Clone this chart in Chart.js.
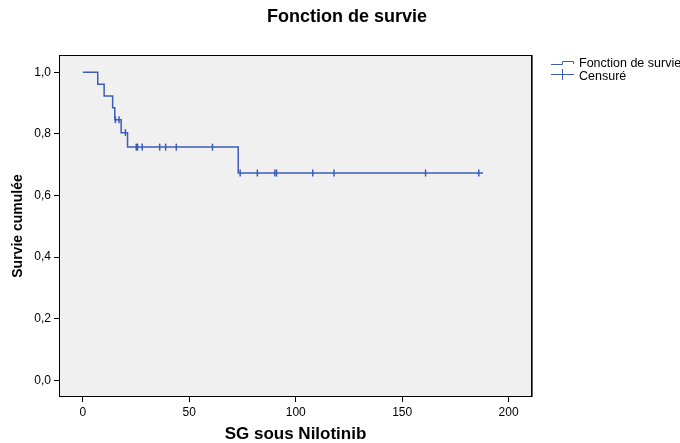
<!DOCTYPE html>
<html lang="fr">
<head>
<meta charset="UTF-8" />
<title>Fonction de survie</title>
<script src="https://cdn.jsdelivr.net/npm/chart.js"></script>
<style>
  body { margin: 0; background: #fff; }
  canvas { display: block; }
</style>
</head>
<body>
<canvas id="survieChart" width="680" height="443"></canvas>
<script>
  // temps des événements et survie cumulée après chaque événement
  const stepTimes = [0, 7, 10, 14, 15, 18, 21, 73, 188];
  const stepSurvival = [1.0, 0.961, 0.923, 0.885, 0.846, 0.804, 0.757, 0.673, 0.673];

  // observations censurées
  const censorTimes = [15.3, 17, 20, 25.1, 25.7, 27.9, 36.1, 38.9, 43.9, 60.9,
                       73.9, 82, 90.2, 91, 108, 118, 161, 186];
  const censorSurvival = [0.846, 0.846, 0.804,
                          0.757, 0.757, 0.757, 0.757, 0.757, 0.757, 0.757,
                          0.673, 0.673, 0.673, 0.673, 0.673, 0.673, 0.673, 0.673];

  const xTicks = [0, 50, 100, 150, 200];
  const yTicks = [0, 0.2, 0.4, 0.6, 0.8, 1.0];

  const FONT = "Arial, 'Liberation Sans', sans-serif";
  const BLUE = "#3d5cb8";

  // fond gris de la zone de tracé + cadre
  const frame = {
    id: "frame",
    beforeDatasetsDraw(chart) {
      const a = chart.chartArea;
      const ctx = chart.ctx;
      ctx.save();
      ctx.fillStyle = "#f0f0f0";
      ctx.fillRect(a.left, a.top, a.right - a.left, a.bottom - a.top);
      ctx.restore();
    },
    afterDraw(chart) {
      const a = chart.chartArea;
      const ctx = chart.ctx;
      ctx.save();
      ctx.strokeStyle = "#000";
      ctx.lineWidth = 1;
      ctx.strokeRect(a.left + 0.5, a.top + 0.5, a.right - a.left - 1, a.bottom - a.top - 1);
      ctx.strokeStyle = "#666";
      ctx.beginPath();
      ctx.moveTo(a.right + 0.5, a.top);
      ctx.lineTo(a.right + 0.5, a.bottom);
      ctx.stroke();

      // titre
      ctx.fillStyle = "#000";
      ctx.font = "bold 18px " + FONT;
      ctx.textAlign = "center";
      ctx.textBaseline = "middle";
      ctx.fillText("Fonction de survie", 347, 17);

      // légende
      ctx.strokeStyle = BLUE;
      ctx.lineWidth = 1;
      ctx.beginPath();
      ctx.moveTo(551, 64.5);
      ctx.lineTo(562.5, 64.5);
      ctx.lineTo(562.5, 61.5);
      ctx.lineTo(573.5, 61.5);
      ctx.lineTo(573.5, 64);
      ctx.stroke();
      ctx.beginPath();
      ctx.moveTo(551, 74.5);
      ctx.lineTo(574, 74.5);
      ctx.moveTo(562.5, 69);
      ctx.lineTo(562.5, 80);
      ctx.stroke();
      ctx.fillStyle = "#000";
      ctx.font = "12.5px " + FONT;
      ctx.textAlign = "left";
      ctx.fillText("Fonction de survie", 579, 64);
      ctx.fillText("Censuré", 579, 77);
      ctx.restore();
    }
  };

  const ctx = document.getElementById("survieChart").getContext("2d");
  new Chart(ctx, {
    type: "scatter",
    data: {
      datasets: [
        {
          label: "Fonction de survie",
          data: stepTimes.map((t, i) => ({ x: t, y: stepSurvival[i] })),
          showLine: true,
          stepped: true,
          borderColor: BLUE,
          borderWidth: 1.5,
          pointRadius: 0,
          pointHoverRadius: 0,
          fill: false,
        },
        {
          label: "Censuré",
          data: censorTimes.map((t, i) => ({ x: t, y: censorSurvival[i] })),
          showLine: false,
          pointStyle: "line",
          rotation: 90,
          pointRadius: 3.5,
          pointHoverRadius: 3.5,
          borderColor: BLUE,
          pointBorderColor: BLUE,
          pointBorderWidth: 1.5,
        },
      ],
    },
    options: {
      responsive: false,
      animation: false,
      layout: { padding: { top: 55, right: 148, left: 0, bottom: 0 } },
      plugins: {
        legend: { display: false },
        tooltip: { enabled: false },
      },
      scales: {
        x: {
          type: "linear",
          min: -11.2,
          max: 211,
          afterBuildTicks: (s) => { s.ticks = xTicks.map((v) => ({ value: v })); },
          afterFit: (s) => { s.height = 46; },
          grid: { drawOnChartArea: false, tickLength: 5, color: "#000" },
          border: { display: false },
          ticks: {
            color: "#000",
            padding: 3,
            maxRotation: 0,
            font: { size: 12, family: FONT },
          },
          title: {
            display: true,
            text: "SG sous Nilotinib",
            color: "#000",
            padding: { top: -2, bottom: 0 },
            font: { size: 17, weight: "bold", family: FONT, lineHeight: 1 },
          },
        },
        y: {
          type: "linear",
          min: -0.054,
          max: 1.056,
          afterBuildTicks: (s) => { s.ticks = yTicks.map((v) => ({ value: v })); },
          afterFit: (s) => { s.width = 59; },
          grid: { drawOnChartArea: false, tickLength: 5, color: "#000" },
          border: { display: false },
          ticks: {
            color: "#000",
            padding: 3,
            font: { size: 12, family: FONT },
            callback: (v) => v.toFixed(1).replace(".", ","),
          },
          title: {
            display: true,
            text: "Survie cumulée",
            color: "#000",
            padding: { top: 11, bottom: 0 },
            font: { size: 14, weight: "bold", family: FONT, lineHeight: 1 },
          },
        },
      },
    },
    plugins: [frame],
  });
</script>
</body>
</html>
